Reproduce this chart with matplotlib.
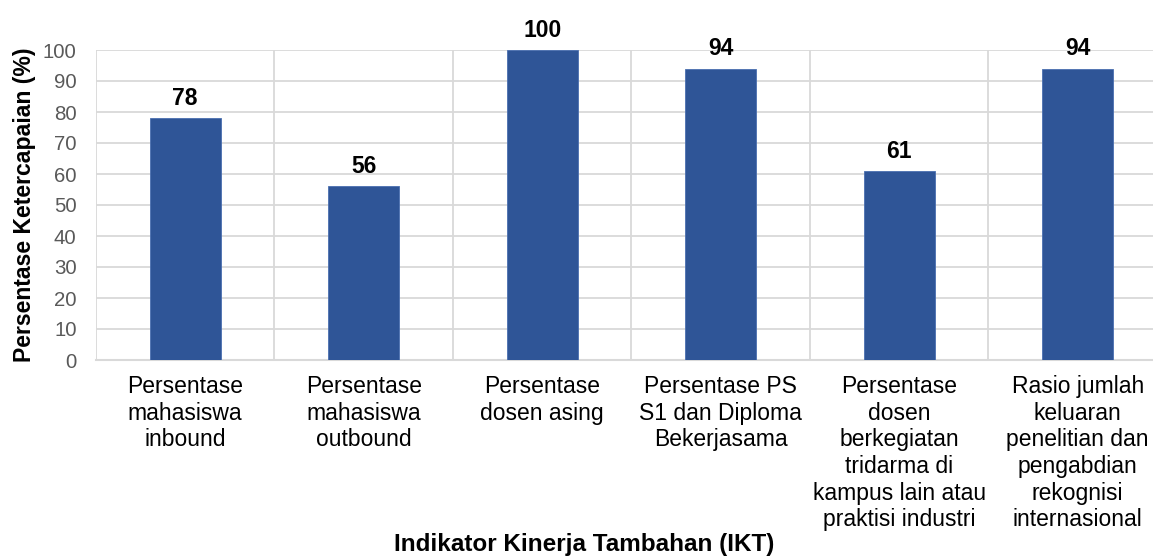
import numpy as np
from matplotlib import pyplot as plt

plt.rcParams['font.family'] = ['Liberation Sans', 'DejaVu Sans']

# data
categories = [
	'Persentase\nmahasiswa\ninbound',
	'Persentase\nmahasiswa\noutbound',
	'Persentase\ndosen asing',
	'Persentase PS\nS1 dan Diploma\nBekerjasama',
	'Persentase\ndosen\nberkegiatan\ntridarma di\nkampus lain atau\npraktisi industri',
	'Rasio jumlah\nkeluaran\npenelitian dan\npengabdian\nrekognisi\ninternasional',
]
values = [78, 56, 100, 94, 61, 94]
yticks = [0, 10, 20, 30, 40, 50, 60, 70, 80, 90, 100]

W, H = 1153, 556
fig = plt.figure(figsize=(W/100, H/100), dpi=100)
ax = fig.add_axes([96/W, 1-360/H, 6*178.5/W, 310/H])

x = np.arange(len(values))
bars = ax.bar(x, values, width=0.4, color='#2F5597', edgecolor='#4A6FB0', linewidth=0.6, zorder=3)
for xi, v in zip(x, values):
	ax.annotate(str(v), (xi, v), xytext=(0, 6), textcoords='offset points',
		ha='center', va='bottom', fontsize=16.5, fontweight='bold', color='black',
		annotation_clip=False)

ax.set_xlim(-0.5, 5.5)
ax.set_ylim(0, 100)
ax.set_yticks(yticks)
ax.set_xticks(x)
ax.set_xticklabels(categories, fontsize=16.5, linespacing=1.2)
ax.set_xticks(np.arange(-0.5, 6, 1), minor=True)
ax.tick_params(axis='both', which='both', length=0)
ax.tick_params(axis='y', labelsize=14.7, labelcolor='#595959', pad=14)
ax.tick_params(axis='x', pad=11)

ax.grid(axis='y', which='major', color='#D9D9D9', linewidth=1.3, zorder=0)
ax.grid(axis='x', which='minor', color='#D9D9D9', linewidth=1.3, zorder=0)
ax.grid(axis='x', which='major', visible=False)
for s in ['top', 'right', 'left']:
	ax.spines[s].set_visible(False)
ax.spines['bottom'].set_color('#D9D9D9')
ax.spines['bottom'].set_linewidth(1.5)

ax.set_ylabel('Persentase Ketercapaian (%)', fontsize=16.6, fontweight='bold', labelpad=5)
fig.text(584/W, 1-545/H, 'Indikator Kinerja Tambahan (IKT)', fontsize=17.5, fontweight='bold',
	ha='center', va='center')

fig.savefig('out.png', dpi=100)
